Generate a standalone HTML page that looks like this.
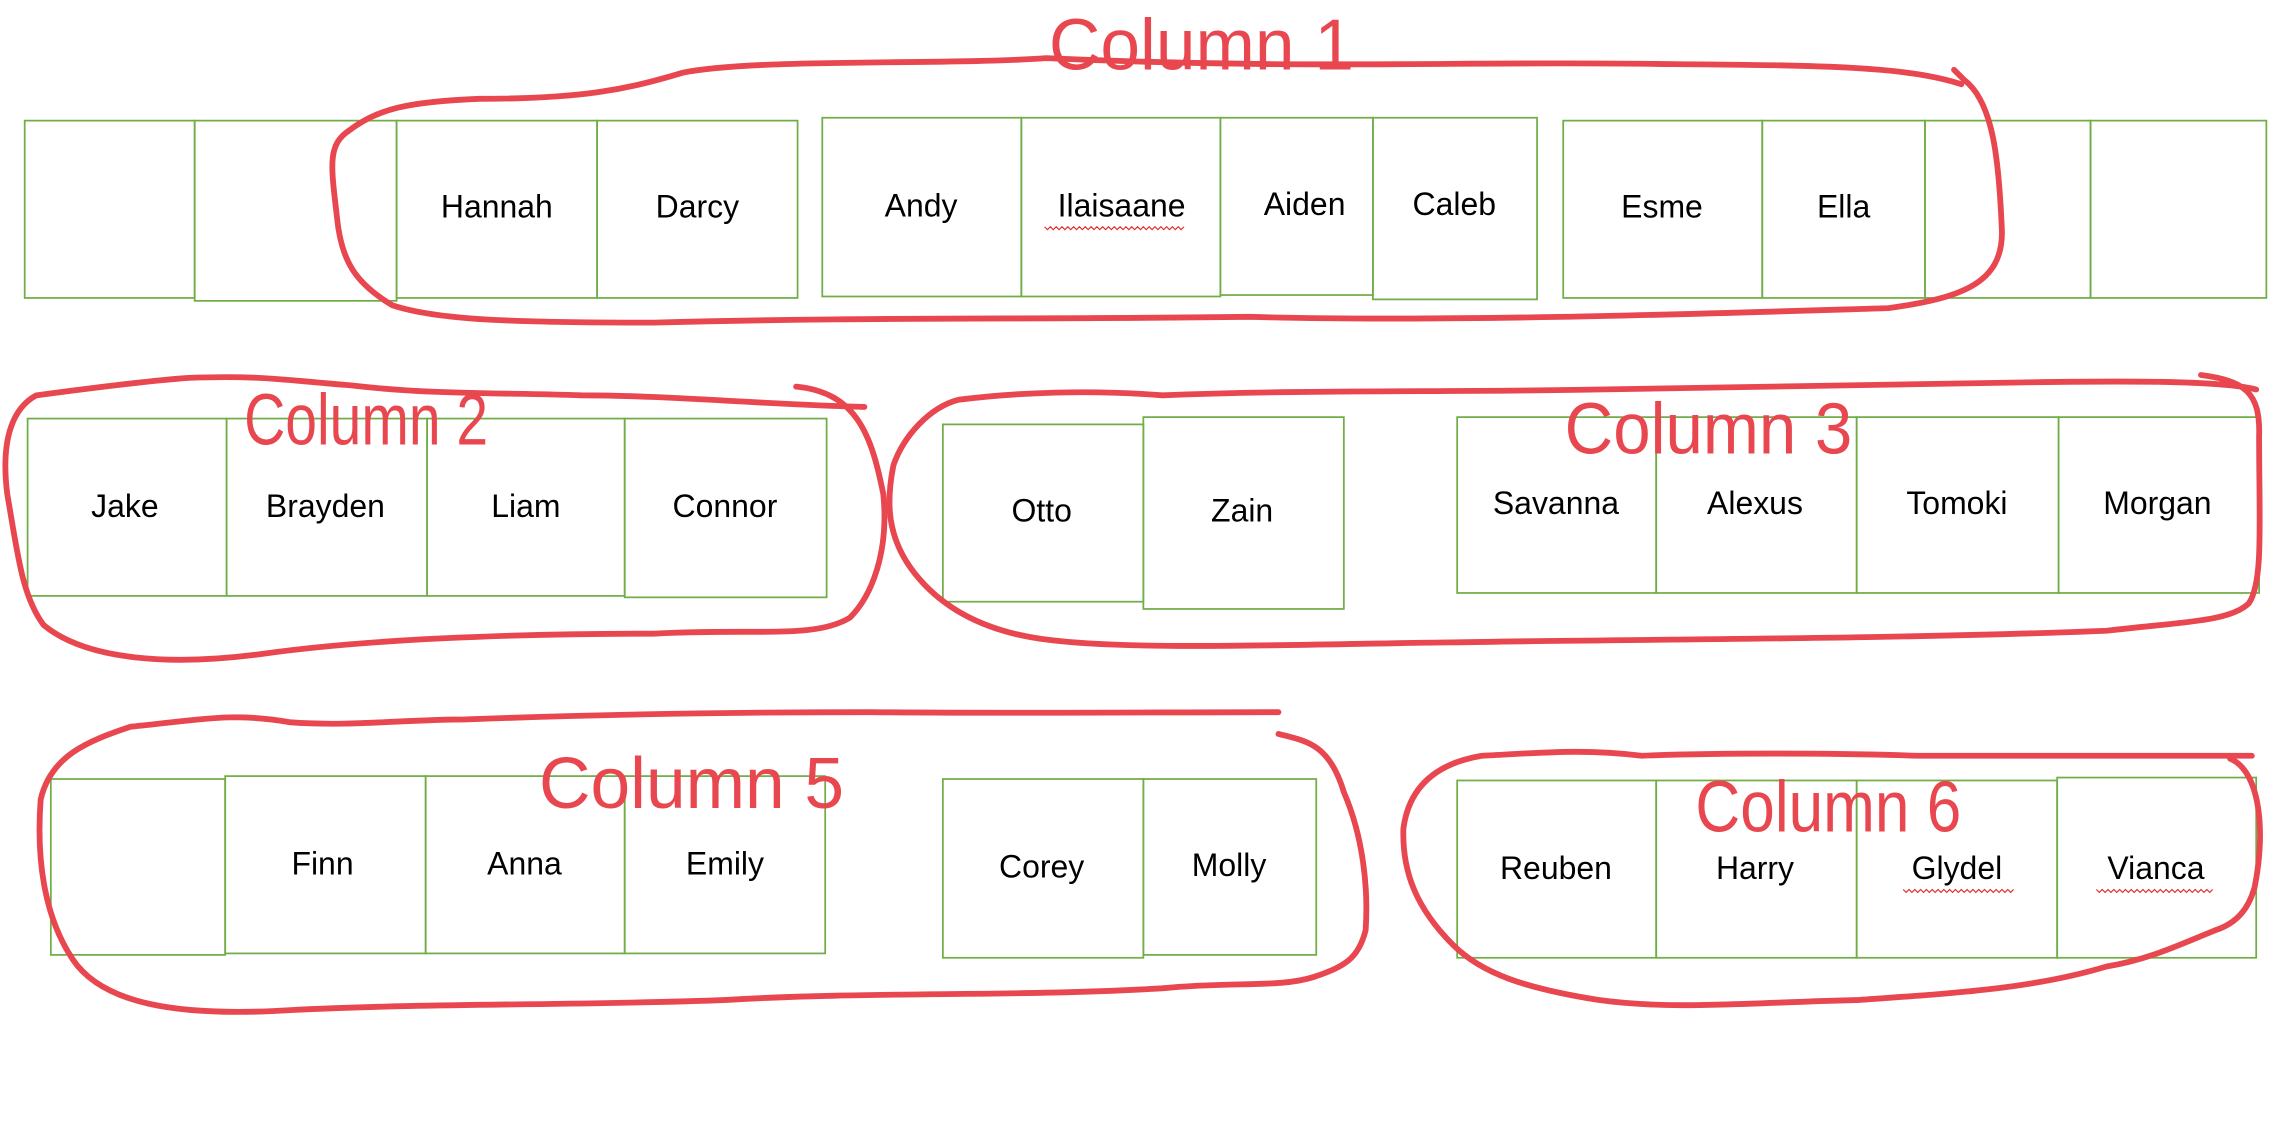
<!DOCTYPE html>
<html><head><meta charset="utf-8"><style>
html,body{margin:0;padding:0;background:#fff;}
svg{display:block;}
.b{fill:none;stroke:#70ad47;stroke-width:1.2;}
.t{font-family:"Liberation Sans",sans-serif;font-size:22px;fill:#000;text-anchor:middle;dominant-baseline:middle;}
.r{fill:none;stroke:#e8474f;stroke-width:4;stroke-linecap:round;stroke-linejoin:round;}
.l{font-family:"Liberation Sans Narrow","Liberation Sans",sans-serif;fill:#e8474f;font-size:50px;}
.sq{fill:none;stroke:#e03030;stroke-width:0.8;}
</style></head><body>
<svg width="2278" height="1138" viewBox="0 0 1568 783" preserveAspectRatio="none">
<!-- row 1 -->
<rect class="b" x="17" y="83" width="117" height="122"/>
<rect class="b" x="134" y="83" width="139" height="124"/>
<rect class="b" x="273" y="83" width="138" height="122"/>
<rect class="b" x="411" y="83" width="138" height="122"/>
<rect class="b" x="566" y="81" width="137" height="123"/>
<rect class="b" x="703" y="81" width="137" height="123"/>
<rect class="b" x="840" y="81" width="105" height="122"/>
<rect class="b" x="945" y="81" width="113" height="125"/>
<rect class="b" x="1076" y="83" width="137" height="122"/>
<rect class="b" x="1213" y="83" width="112" height="122"/>
<rect class="b" x="1325" y="83" width="114" height="122"/>
<rect class="b" x="1439" y="83" width="121" height="122"/>
<text class="t" x="342" y="144">Hannah</text>
<text class="t" x="480" y="144">Darcy</text>
<text class="t" x="634" y="143">Andy</text>
<text class="t" x="772" y="143">Ilaisaane</text>
<text class="t" x="898" y="142">Aiden</text>
<text class="t" x="1001" y="142">Caleb</text>
<text class="t" x="1144" y="144">Esme</text>
<text class="t" x="1269" y="144">Ella</text>
<path class="sq" d="M719,156 l2,2 l2,-2 l2,2 l2,-2 l2,2 l2,-2 l2,2 l2,-2 l2,2 l2,-2 l2,2 l2,-2 l2,2 l2,-2 l2,2 l2,-2 l2,2 l2,-2 l2,2 l2,-2 l2,2 l2,-2 l2,2 l2,-2 l2,2 l2,-2 l2,2 l2,-2 l2,2 l2,-2 l2,2 l2,-2 l2,2 l2,-2 l2,2 l2,-2 l2,2 l2,-2 l2,2 l2,-2 l2,2 l2,-2 l2,2 l2,-2 l2,2 l2,-2 l2,2 l2,-2"/>
<!-- row 2 -->
<rect class="b" x="19" y="288" width="137" height="122"/>
<rect class="b" x="156" y="288" width="138" height="122"/>
<rect class="b" x="294" y="288" width="136" height="122"/>
<rect class="b" x="430" y="288" width="139" height="123"/>
<rect class="b" x="649" y="292" width="138" height="122"/>
<rect class="b" x="787" y="287" width="138" height="132"/>
<rect class="b" x="1003" y="287" width="137" height="121"/>
<rect class="b" x="1140" y="287" width="138" height="121"/>
<rect class="b" x="1278" y="287" width="139" height="121"/>
<rect class="b" x="1417" y="287" width="138" height="121"/>
<text class="t" x="86" y="350">Jake</text>
<text class="t" x="224" y="350">Brayden</text>
<text class="t" x="362" y="350">Liam</text>
<text class="t" x="499" y="350">Connor</text>
<text class="t" x="717" y="353">Otto</text>
<text class="t" x="855" y="353">Zain</text>
<text class="t" x="1071" y="348">Savanna</text>
<text class="t" x="1208" y="348">Alexus</text>
<text class="t" x="1347" y="348">Tomoki</text>
<text class="t" x="1485" y="348">Morgan</text>
<!-- row 3 -->
<rect class="b" x="35" y="536" width="120" height="121"/>
<rect class="b" x="155" y="534" width="138" height="122"/>
<rect class="b" x="293" y="534" width="137" height="122"/>
<rect class="b" x="430" y="534" width="138" height="122"/>
<rect class="b" x="649" y="536" width="138" height="123"/>
<rect class="b" x="787" y="536" width="119" height="121"/>
<rect class="b" x="1003" y="537" width="137" height="122"/>
<rect class="b" x="1140" y="537" width="138" height="122"/>
<rect class="b" x="1278" y="537" width="138" height="122"/>
<rect class="b" x="1416" y="535" width="137" height="124"/>
<text class="t" x="222" y="596">Finn</text>
<text class="t" x="361" y="596">Anna</text>
<text class="t" x="499" y="596">Emily</text>
<text class="t" x="717" y="598">Corey</text>
<text class="t" x="846" y="597">Molly</text>
<text class="t" x="1071" y="599">Reuben</text>
<text class="t" x="1208" y="599">Harry</text>
<text class="t" x="1347" y="599">Glydel</text>
<text class="t" x="1484" y="599">Vianca</text>
<path class="sq" d="M1310,612 l2,2 l2,-2 l2,2 l2,-2 l2,2 l2,-2 l2,2 l2,-2 l2,2 l2,-2 l2,2 l2,-2 l2,2 l2,-2 l2,2 l2,-2 l2,2 l2,-2 l2,2 l2,-2 l2,2 l2,-2 l2,2 l2,-2 l2,2 l2,-2 l2,2 l2,-2 l2,2 l2,-2 l2,2 l2,-2 l2,2 l2,-2 l2,2 l2,-2 l2,2 l2,-2"/>
<path class="sq" d="M1443,612 l2,2 l2,-2 l2,2 l2,-2 l2,2 l2,-2 l2,2 l2,-2 l2,2 l2,-2 l2,2 l2,-2 l2,2 l2,-2 l2,2 l2,-2 l2,2 l2,-2 l2,2 l2,-2 l2,2 l2,-2 l2,2 l2,-2 l2,2 l2,-2 l2,2 l2,-2 l2,2 l2,-2 l2,2 l2,-2 l2,2 l2,-2 l2,2 l2,-2 l2,2 l2,-2 l2,2 l2,-2"/>
<!-- loops -->
<path class="r" d="M1345,48 L1352,55 C1372,70 1376,110 1378,160 C1378,195 1350,205 1300,212 C1200,215 1000,222 860,218 C700,220 600,218 450,222 C350,222 300,220 270,210 C245,195 235,180 232,150 C228,115 225,100 240,90 C260,75 280,70 330,68 C400,68 430,62 470,50 C520,40 650,45 720,40 C900,48 1000,42 1140,44 C1250,45 1310,45 1350,58"/>
<path class="r" d="M548,266 C590,270 600,300 608,340 C612,380 600,410 585,425 C560,440 520,432 450,436 C350,436 250,440 180,450 C120,458 60,455 30,430 C15,410 12,380 5,340 C0,300 10,280 25,272 C55,268 100,262 130,260 C180,258 200,262 240,265 C300,272 350,270 400,272 C460,272 520,278 595,280"/>
<path class="r" d="M1515,258 C1545,262 1556,270 1555,300 C1555,360 1558,400 1548,415 C1535,428 1500,428 1450,434 C1300,440 1100,440 1000,442 C900,443 780,448 720,440 C680,435 650,420 630,395 C610,370 610,345 615,320 C622,300 640,280 660,275 C700,270 750,268 800,272 C900,268 1000,270 1100,268 C1200,266 1300,265 1400,263 C1470,262 1530,262 1553,268"/>
<path class="r" d="M880,505 C900,510 915,512 925,545 C938,575 942,610 940,640 C935,660 925,665 905,672 C880,680 850,675 800,680 C700,686 600,682 500,688 C400,692 300,690 200,695 C120,700 70,690 50,660 C30,630 25,590 28,550 C35,520 60,510 90,500 C140,495 160,490 200,497 C240,500 280,495 320,495 C400,492 500,490 600,490 C700,491 800,490 880,490"/>
<path class="r" d="M1535,522 C1555,530 1560,570 1552,610 C1548,625 1540,635 1525,640 C1500,650 1480,660 1450,665 C1400,680 1350,683 1280,688 C1200,690 1150,695 1100,688 C1050,680 1020,670 1000,650 C975,625 965,600 966,570 C970,540 990,525 1020,520 C1060,518 1090,515 1130,520 C1180,518 1260,518 1320,520 C1400,520 1480,520 1550,520"/>
<!-- labels -->
<text class="l" x="722" y="48" font-size="60" textLength="210" lengthAdjust="spacingAndGlyphs">Column 1</text>
<text class="l" x="168" y="306" font-size="50" textLength="168" lengthAdjust="spacingAndGlyphs">Column 2</text>
<text class="l" x="1077" y="312" font-size="52" textLength="198" lengthAdjust="spacingAndGlyphs">Column 3</text>
<text class="l" x="371" y="556" font-size="56" textLength="210" lengthAdjust="spacingAndGlyphs">Column 5</text>
<text class="l" x="1167" y="572" font-size="44" textLength="183" lengthAdjust="spacingAndGlyphs">Column 6</text>
</svg>
</body></html>
